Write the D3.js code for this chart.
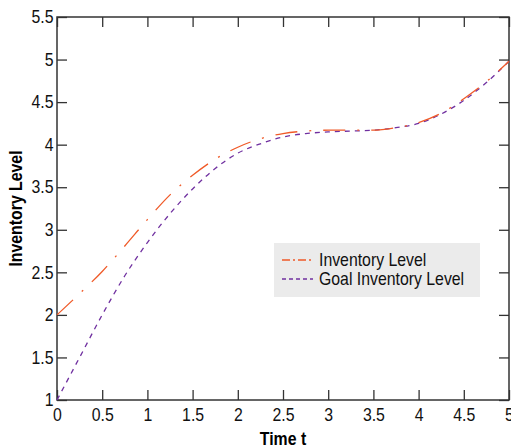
<!DOCTYPE html>
<html>
<head>
  <script src="https://d3js.org/d3.v7.min.js"></script>
  <style>
    body { margin: 0; background: #fff; }
    svg { display: block; font-family: "Liberation Sans", Arial, sans-serif; }
  </style>
</head>
<body>
  <svg id="chart" width="511" height="448"></svg>
  <script>
    // time samples and the two series
    const time = [0, 0.25, 0.5, 0.75, 1, 1.25, 1.5, 1.75, 2, 2.25, 2.5, 2.75, 3, 3.25, 3.5, 3.75, 4, 4.25, 4.5, 4.75, 5];
    const inventory = [2.00, 2.25, 2.51, 2.81, 3.12, 3.41, 3.64, 3.83, 3.97, 4.07, 4.13, 4.16, 4.17, 4.17, 4.17, 4.20, 4.26, 4.37, 4.54, 4.74, 4.98];
    const goal = [1.00, 1.50, 2.00, 2.46, 2.85, 3.19, 3.48, 3.72, 3.90, 4.01, 4.09, 4.13, 4.15, 4.16, 4.17, 4.20, 4.25, 4.36, 4.52, 4.73, 4.98];
    const xTicks = [0, 0.5, 1, 1.5, 2, 2.5, 3, 3.5, 4, 4.5, 5];
    const yTicks = [1, 1.5, 2, 2.5, 3, 3.5, 4, 4.5, 5, 5.5];
    const seriesNames = ['Inventory Level', 'Goal Inventory Level'];

    const svg = d3.select('#chart');
    const plotL = 57, plotR = 509, plotT = 17, plotB = 400;
    const narrow = 'scale(0.88,1)';   // squeeze Liberation Sans into a condensed look

    const x = d3.scaleLinear().domain([0, 5]).range([plotL, plotR]);
    const y = d3.scaleLinear().domain([1, 5.5]).range([plotB, plotT]);

    const fmt = d => String(d);

    // axes, ticks pointing inward on all four sides
    svg.append('g')
      .attr('transform', `translate(0,${plotB})`)
      .call(d3.axisBottom(x).tickValues(xTicks).tickSize(-10).tickPadding(8).tickFormat(fmt))
      .call(g => g.select('.domain').remove());
    svg.append('g')
      .attr('transform', `translate(0,${plotT})`)
      .call(d3.axisTop(x).tickValues(xTicks).tickSize(-10).tickFormat(''))
      .call(g => g.select('.domain').remove());
    svg.append('g')
      .attr('transform', `translate(${plotL},0)`)
      .call(d3.axisLeft(y).tickValues(yTicks).tickSize(-10).tickPadding(4).tickFormat(fmt))
      .call(g => g.select('.domain').remove());
    svg.append('g')
      .attr('transform', `translate(${plotR},0)`)
      .call(d3.axisRight(y).tickValues(yTicks).tickSize(-10).tickFormat(''))
      .call(g => g.select('.domain').remove());

    svg.selectAll('.tick line').attr('stroke', '#333').attr('stroke-width', 1.3);
    svg.selectAll('.tick text').attr('font-size', 18).attr('fill', '#111')
      .attr('font-family', '"Liberation Sans", Arial, sans-serif')
      .attr('transform', narrow);

    // frame
    svg.append('rect')
      .attr('x', plotL).attr('y', plotT)
      .attr('width', plotR - plotL).attr('height', plotB - plotT)
      .attr('fill', 'none').attr('stroke', '#333').attr('stroke-width', 1.5);

    const line = d3.line().curve(d3.curveMonotoneX);

    svg.append('path')
      .attr('d', line(time.map((t, i) => [x(t), y(goal[i])])))
      .attr('fill', 'none').attr('stroke', '#7030a0').attr('stroke-width', 1.3)
      .attr('stroke-dasharray', '5,5');

    svg.append('path')
      .attr('d', line(time.map((t, i) => [x(t), y(inventory[i])])))
      .attr('fill', 'none').attr('stroke', '#f05a28').attr('stroke-width', 1.3)
      .attr('stroke-dasharray', '22,12,2,12');

    // legend
    const legend = svg.append('g');
    legend.append('rect')
      .attr('x', 274).attr('y', 243).attr('width', 206).attr('height', 54)
      .attr('fill', '#ebebeb');
    const styles = [
      { color: '#f05a28', dash: '8,3,2,3' },
      { color: '#7030a0', dash: '4,3' }
    ];
    seriesNames.forEach((name, i) => {
      const cy = 260 + i * 19;
      legend.append('line')
        .attr('x1', 282).attr('x2', 313).attr('y1', cy).attr('y2', cy)
        .attr('stroke', styles[i].color).attr('stroke-width', 1.3)
        .attr('stroke-dasharray', styles[i].dash);
      legend.append('text')
        .attr('transform', `translate(319,${cy}) ${narrow}`)
        .attr('dy', '0.36em')
        .attr('font-size', 18).attr('fill', '#111')
        .text(name);
    });

    // axis titles
    svg.append('text')
      .attr('transform', `translate(${(plotL + plotR) / 2},445) ${narrow}`)
      .attr('text-anchor', 'middle').attr('font-size', 18).attr('font-weight', 'bold')
      .text('Time t');
    svg.append('text')
      .attr('transform', `translate(22,${(plotT + plotB) / 2}) rotate(-90) ${narrow}`)
      .attr('text-anchor', 'middle').attr('font-size', 18).attr('font-weight', 'bold')
      .text('Inventory Level');
  </script>
</body>
</html>
